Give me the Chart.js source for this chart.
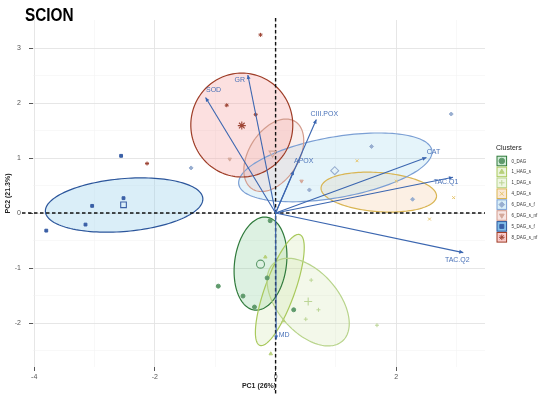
<!DOCTYPE html>
<html><head><meta charset="utf-8">
<script src="https://cdn.jsdelivr.net/npm/chart.js@4.4.0/dist/chart.umd.min.js"></script>
<style>html,body{margin:0;padding:0;background:#fff;}#wrap{width:550px;height:394px;}</style>
</head><body><div id="wrap"><canvas id="c" width="550" height="394"></canvas></div>
<script>
// ---- data ----
const clusterNames = ['0_DAG','1_HAG_s','1_DAG_s','4_DAG_s','6_DAG_s_f','6_DAG_s_nf','5_DAG_s_f','8_DAG_s_nf'];

const scores_0_DAG      = [[-0.09,-0.14],[-0.14,-1.18],[-0.54,-1.51],[-0.95,-1.33],[-0.35,-1.71],[0.30,-1.76]];
const scores_1_HAG_s    = [[-0.17,-0.80],[0.13,-1.96],[-0.08,-2.56]];
const scores_1_DAG_s    = [[0.59,-1.22],[0.71,-1.76],[0.50,-1.93],[1.68,-2.04]];
const scores_4_DAG_s    = [[1.35,0.95],[2.00,0.58],[2.95,0.28],[2.55,-0.11]];
const scores_6_DAG_s_f  = [[2.91,1.80],[1.59,1.21],[0.56,0.42],[-1.40,0.82],[2.27,0.25]];
const scores_6_DAG_s_nf = [[-0.76,0.98],[0.43,0.58]];
const scores_5_DAG_s_f  = [[-2.56,1.04],[-3.04,0.13],[-2.52,0.27],[-3.15,-0.21],[-3.80,-0.32]];
const scores_8_DAG_s_nf = [[-0.25,3.24],[-0.81,1.96],[-0.33,1.79],[-2.13,0.90]];

// group means (null = not shown)
const meanPC1 = [-0.25, null, 0.54, null, 0.98, -0.05, -2.52, -0.56];
const meanPC2 = [-0.93, null, -1.61, null, 0.77, 1.09, 0.15, 1.59];

// concentration ellipses: centre, semi-axes and rotation (degrees), in PC units
const ellCX    = [-0.25, 0.07, 0.54, 1.71, 0.99, -0.03, -2.51, -0.56];
const ellCY    = [-0.92, -1.40, -1.62, 0.38, 0.83, 1.05, 0.145, 1.60];
const ellA     = [0.85, 1.06, 0.91, 0.96, 1.63, 0.71, 1.31, 0.845];
const ellB     = [0.43, 0.25, 0.52, 0.355, 0.55, 0.42, 0.48, 0.945];
const ellAngle = [83.5, 72, -54, -4.9, 11.2, 62.5, 5.5, 0];

// variable loadings (arrows)
const loadingNames = ['SOD','GR','CIII.POX','APOX','CAT','TAC.Q1','TAC.Q2','MD'];
const loadingPC1   = [-1.16, -0.46, 0.675, 0.30, 2.50, 2.94, 3.11, 0.01];
const loadingPC2   = [2.10, 2.51, 1.70, 0.77, 1.01, 0.65, -0.72, -2.30];

const xTickValues = [-4,-3,-2,-1,0,1,2,3];
const yTickValues = [-2.5,-2,-1.5,-1,-0.5,0,0.5,1,1.5,2,2.5,3];

// ---- styles ----
const allScores = [scores_0_DAG,scores_1_HAG_s,scores_1_DAG_s,scores_4_DAG_s,scores_6_DAG_s_f,scores_6_DAG_s_nf,scores_5_DAG_s_f,scores_8_DAG_s_nf];
const styles = [
  {pt:'#5f9a6c', edge:'#2f7a3b', fill:'rgba(120,200,140,0.25)', key:'rgba(120,200,140,0.35)', shape:'circle', rot:0},
  {pt:'#b7d07a', edge:'#a9c95c', fill:'rgba(190,220,140,0.20)', key:'rgba(190,220,140,0.30)', shape:'triangle', rot:0},
  {pt:'#bcd596', edge:'#b8d48b', fill:'rgba(200,225,160,0.22)', key:'rgba(200,225,160,0.30)', shape:'cross', rot:0},
  {pt:'#e6c46a', edge:'#d9b553', fill:'rgba(245,205,165,0.30)', key:'rgba(245,205,165,0.45)', shape:'crossRot', rot:0},
  {pt:'#98aed0', edge:'#7b9fd4', fill:'rgba(170,220,240,0.30)', key:'rgba(170,220,240,0.45)', shape:'rectRot', rot:0},
  {pt:'#d4a89a', edge:'#d39c8d', fill:'rgba(235,190,185,0.25)', key:'rgba(235,190,185,0.40)', shape:'triangle', rot:180},
  {pt:'#3a5fa6', edge:'#2b559b', fill:'rgba(150,205,235,0.35)', key:'rgba(90,170,225,0.75)', shape:'rect', rot:0},
  {pt:'#9e4636', edge:'#9e3d27', fill:'rgba(245,160,160,0.33)', key:'rgba(245,160,160,0.55)', shape:'star', rot:0}
];
const arrowColor = '#3b66b0';
const labelColor = '#4a72b8';
const labelOffsets = {SOD:[8,-7], GR:[-8,5], 'CIII.POX':[8,-5], APOX:[10,-10], CAT:[7,-5], 'TAC.Q1':[-7,5], 'TAC.Q2':[-6,7], MD:[8,-4]};

const datasets = [];
loadingNames.forEach((n,i)=>{
  datasets.push({label:n, kind:'arrow', data:[{x:0,y:0},{x:loadingPC1[i],y:loadingPC2[i]}], showLine:true,
    borderColor:arrowColor, borderWidth:1.1, pointRadius:0, order:0});
});
clusterNames.forEach((n,i)=>{
  if (meanPC1[i] !== null) datasets.push({label:n+' mean', kind:'mean', data:[{x:meanPC1[i],y:meanPC2[i]}],
    pointStyle:styles[i].shape, rotation:styles[i].rot, pointRadius:4, borderWidth:1.1,
    borderColor:styles[i].pt, backgroundColor:'rgba(255,255,255,0)', order:1});
});
clusterNames.forEach((n,i)=>{
  datasets.push({label:n, kind:'pts', data:allScores[i].map(p=>({x:p[0],y:p[1]})),
    pointStyle:styles[i].shape, rotation:styles[i].rot, pointRadius:2, borderWidth:1,
    borderColor:styles[i].pt, backgroundColor:styles[i].pt, order:2});
});

function ellipsePath(ctx, xs, ys, i){
  const th = ellAngle[i]*Math.PI/180;
  ctx.beginPath();
  for (let k=0;k<=144;k++){
    const t = k/144*2*Math.PI;
    const dx = ellA[i]*Math.cos(t), dy = ellB[i]*Math.sin(t);
    const X = ellCX[i] + dx*Math.cos(th) - dy*Math.sin(th);
    const Y = ellCY[i] + dx*Math.sin(th) + dy*Math.cos(th);
    const px = xs.getPixelForValue(X), py = ys.getPixelForValue(Y);
    if (k===0) ctx.moveTo(px,py); else ctx.lineTo(px,py);
  }
  ctx.closePath();
}

const backPlugin = {
  id:'back',
  beforeDatasetsDraw(chart){
    const ctx = chart.ctx, xs = chart.scales.x, ys = chart.scales.y, ca = chart.chartArea;
    ctx.save();
    clusterNames.forEach((n,i)=>{ ellipsePath(ctx,xs,ys,i); ctx.fillStyle = styles[i].fill; ctx.fill(); });
    clusterNames.forEach((n,i)=>{ ellipsePath(ctx,xs,ys,i); ctx.strokeStyle = styles[i].edge; ctx.lineWidth = 1.2; ctx.stroke(); });
    // zero reference lines
    ctx.strokeStyle = '#111'; ctx.lineWidth = 1.4; ctx.setLineDash([3.5,2.5]);
    const y0 = ys.getPixelForValue(0), x0 = xs.getPixelForValue(0);
    ctx.beginPath(); ctx.moveTo(22,y0); ctx.lineTo(ca.right,y0); ctx.stroke();
    ctx.beginPath(); ctx.moveTo(x0,18); ctx.lineTo(x0,394); ctx.stroke();
    ctx.restore();
  },
  afterDatasetsDraw(chart){
    const ctx = chart.ctx, xs = chart.scales.x, ys = chart.scales.y;
    ctx.save();
    loadingNames.forEach((n,i)=>{
      const x0 = xs.getPixelForValue(0), y0 = ys.getPixelForValue(0);
      const x1 = xs.getPixelForValue(loadingPC1[i]), y1 = ys.getPixelForValue(loadingPC2[i]);
      const a = Math.atan2(y1-y0, x1-x0), L = 4.5, w = 0.45;
      ctx.strokeStyle = arrowColor; ctx.fillStyle = arrowColor; ctx.lineWidth = 1.1;
      ctx.beginPath();
      ctx.moveTo(x1,y1);
      ctx.lineTo(x1 - L*Math.cos(a-w), y1 - L*Math.sin(a-w));
      ctx.lineTo(x1 - L*Math.cos(a+w), y1 - L*Math.sin(a+w));
      ctx.closePath(); ctx.fill();
      const off = labelOffsets[n];
      ctx.font = '7px "Liberation Sans", Arial, sans-serif';
      ctx.fillStyle = labelColor; ctx.textAlign = 'center'; ctx.textBaseline = 'middle';
      ctx.fillText(n, x1+off[0], y1+off[1]);
    });
    ctx.restore();
  },
  afterDraw(chart){
    const ctx = chart.ctx;
    ctx.save();
    // title
    ctx.translate(25, 15.5); ctx.scale(0.83, 1);
    ctx.font = 'bold 18.5px "Liberation Sans", Arial, sans-serif';
    ctx.fillStyle = '#000'; ctx.textBaseline = 'middle'; ctx.textAlign = 'left';
    ctx.fillText('SCION', 0, 0);
    ctx.restore();
    // legend
    ctx.save();
    ctx.font = '7px "Liberation Sans", Arial, sans-serif';
    ctx.fillStyle = '#222'; ctx.textBaseline = 'middle'; ctx.textAlign = 'left';
    ctx.fillText('Clusters', 496, 148.5);
    clusterNames.forEach((n,i)=>{
      const cy = 161 + i*10.9, bx = 497, bw = 9.6;
      ctx.fillStyle = styles[i].key; ctx.fillRect(bx, cy-bw/2, bw, bw);
      ctx.strokeStyle = styles[i].edge; ctx.lineWidth = 1; ctx.strokeRect(bx, cy-bw/2, bw, bw);
      Chart.helpers.drawPoint(ctx, {pointStyle:styles[i].shape, rotation:styles[i].rot, radius:2.8, borderWidth:1},
        bx+bw/2, cy);
      ctx.fillStyle = styles[i].pt; ctx.strokeStyle = styles[i].pt;
      ctx.save();
      ctx.translate(511.5, cy); ctx.scale(0.8,1);
      ctx.font = '5.6px "Liberation Sans", Arial, sans-serif';
      ctx.fillStyle = '#333';
      ctx.fillText(n, 0, 0);
      ctx.restore();
    });
    ctx.restore();
  }
};

// legend glyph colours: drawPoint uses current fill/stroke, set beforehand
const origDraw = backPlugin.afterDraw;
backPlugin.afterDraw = function(chart){
  const ctx = chart.ctx;
  const dp = Chart.helpers.drawPoint;
  let idx = 0;
  Chart.helpers.drawPoint = function(c, opts, x, y){
    c.save(); c.strokeStyle = styles[idx].pt; c.fillStyle = styles[idx].pt; dp(c, opts, x, y); c.restore(); idx++;
  };
  origDraw(chart);
  Chart.helpers.drawPoint = dp;
};

new Chart(document.getElementById('c'), {
  type:'scatter',
  data:{datasets},
  options:{
    responsive:false, devicePixelRatio:1, animation:false,
    layout:{padding:{top:20,right:65,bottom:0,left:0}},
    plugins:{legend:{display:false}, tooltip:{enabled:false}, title:{display:false}},
    scales:{
      x:{type:'linear', min:-4.02, max:3.47,
        afterBuildTicks(s){ s.ticks = xTickValues.map(v=>({value:v})); },
        afterFit(s){ s.height = 27; },
        border:{display:false},
        grid:{color:c=> (c.tick && c.tick.value%2===0) ? '#e3e3e3' : '#f1f1f1',
              lineWidth:c=> (c.tick && c.tick.value%2===0) ? 0.9 : 0.5,
              tickColor:c=> (c.tick && c.tick.value%2===0) ? '#444' : 'rgba(0,0,0,0)',
              tickLength:4, drawTicks:true},
        ticks:{autoSkip:false, maxRotation:0, padding:2, color:'#555', font:{size:7, family:'"Liberation Sans", Arial'},
               callback:v=> (v%2===0) ? String(v) : ''},
        title:{display:true, text:'PC1 (26%)', color:'#222', font:{size:7, weight:'bold', family:'"Liberation Sans", Arial'}, padding:{top:0,bottom:4}}
      },
      y:{type:'linear', min:-2.8, max:3.51,
        afterBuildTicks(s){ s.ticks = yTickValues.map(v=>({value:v})); },
        afterFit(s){ s.width = 33; },
        border:{display:false},
        grid:{color:c=> (c.tick && Number.isInteger(c.tick.value)) ? '#e3e3e3' : '#f1f1f1',
              lineWidth:c=> (c.tick && Number.isInteger(c.tick.value)) ? 0.9 : 0.5,
              tickColor:c=> (c.tick && Number.isInteger(c.tick.value)) ? '#444' : 'rgba(0,0,0,0)',
              tickLength:4, drawTicks:true},
        ticks:{autoSkip:false, padding:8, color:'#555', font:{size:7, family:'"Liberation Sans", Arial'},
               callback:v=> Number.isInteger(v) ? String(v) : ''},
        title:{display:true, text:'PC2 (21.3%)', color:'#222', font:{size:7, weight:'bold', family:'"Liberation Sans", Arial'}, padding:{top:4,bottom:0}}
      }
    }
  },
  plugins:[backPlugin]
});
</script>
</body></html>
